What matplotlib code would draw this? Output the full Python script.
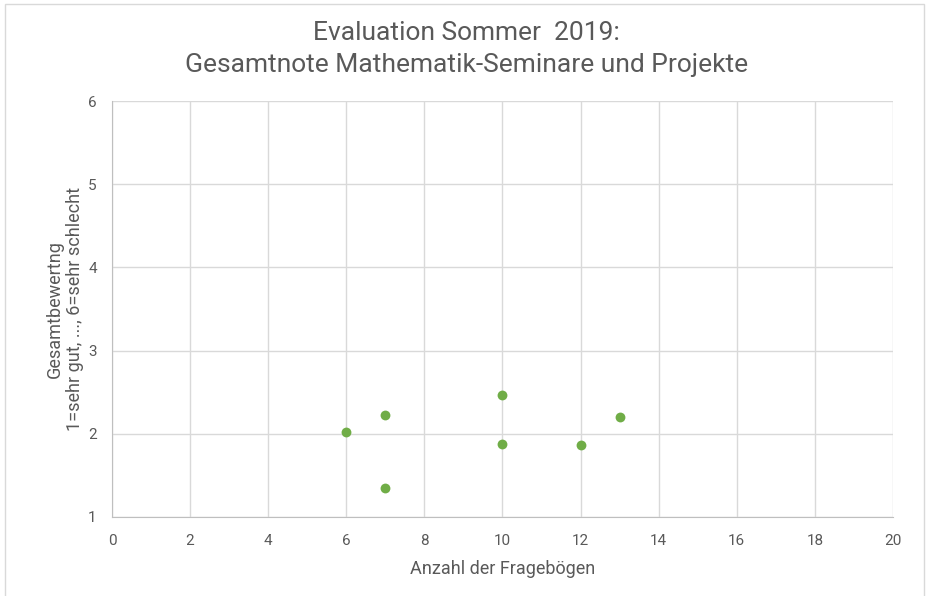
import matplotlib.pyplot as plt
from matplotlib.patches import Rectangle

plt.rcParams['font.family'] = ['Roboto', 'DejaVu Sans']

anzahl = [6, 7, 7, 10, 10, 12, 13]
note = [2.02, 2.23, 1.35, 2.47, 1.88, 1.86, 2.20]

xticks = [0, 2, 4, 6, 8, 10, 12, 14, 16, 18, 20]
yticks = [1, 2, 3, 4, 5, 6]

grau = '#595959'

fig = plt.figure(figsize=(9.32, 5.96), dpi=100)
ax = fig.add_axes([0.1202, 0.1326, 0.9581 - 0.1202, 0.8305 - 0.1326])

ax.scatter(anzahl, note, s=50, color='#70AD47', zorder=3, linewidths=0)

ax.set_xlim(0, 20)
ax.set_ylim(1, 6)
ax.set_xticks(xticks)
ax.set_yticks(yticks)
ax.grid(True, color='#d9d9d9', linewidth=1)
ax.set_axisbelow(True)
for s in ['top', 'right']:
    ax.spines[s].set_visible(False)
for s in ['left', 'bottom']:
    ax.spines[s].set_color('#bfbfbf')
ax.tick_params(length=0, labelsize=11, colors=grau)
ax.tick_params(axis='x', pad=12)
ax.tick_params(axis='y', pad=11)

ax.set_xlabel('Anzahl der Fragebögen', fontsize=13, color=grau, labelpad=9)
ax.set_ylabel('Gesamtbewertng\n1=sehr gut, ..., 6=sehr schlecht', fontsize=13,
              color=grau, labelpad=3, linespacing=1.15)

fig.suptitle('Evaluation Sommer  2019:\nGesamtnote Mathematik-Seminare und Projekte',
             x=0.501, y=0.965, fontsize=19, color=grau, linespacing=1.42)

fig.patches.append(Rectangle((5 / 932, -0.01), 919 / 932, 1 - 4 / 596 + 0.01,
                             transform=fig.transFigure, fill=False,
                             edgecolor='#d9d9d9', linewidth=1))

fig.savefig('out.png', dpi=100)
